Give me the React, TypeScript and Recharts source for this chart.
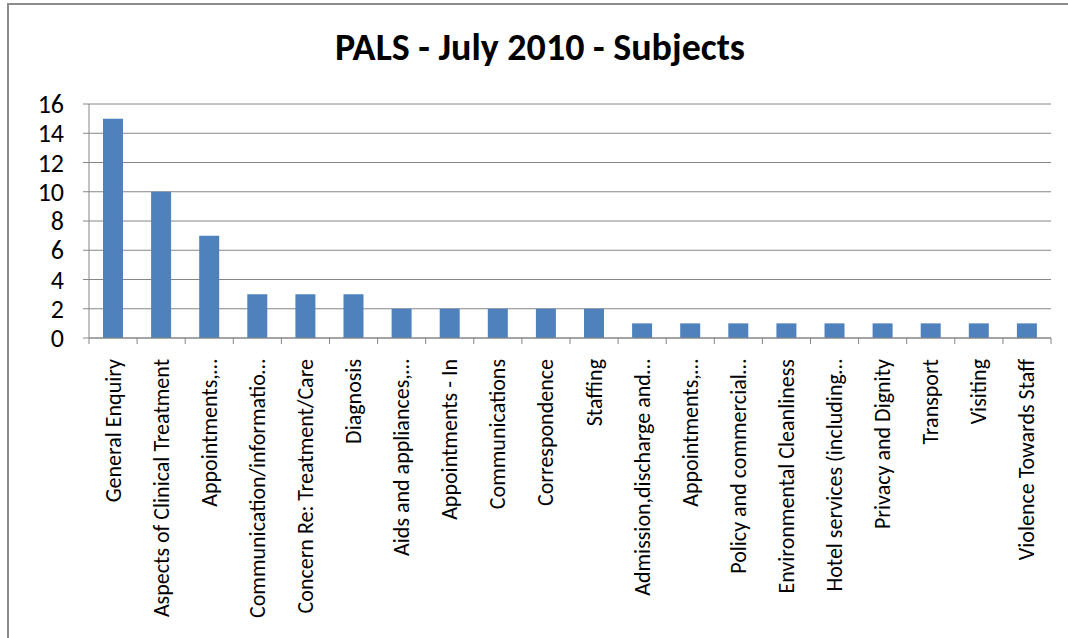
import React from "react";
import { BarChart, Bar, XAxis, YAxis, CartesianGrid } from "recharts";

const categories = [
  "General Enquiry",
  "Aspects of Clinical Treatment",
  "Appointments,…",
  "Communication/informatio…",
  "Concern Re: Treatment/Care",
  "Diagnosis",
  "Aids and appliances,…",
  "Appointments - In",
  "Communications",
  "Correspondence",
  "Staffing",
  "Admission,discharge and…",
  "Appointments,…",
  "Policy and commercial…",
  "Environmental Cleanliness",
  "Hotel services (including…",
  "Privacy and Dignity",
  "Transport",
  "Visiting",
  "Violence Towards Staff",
];
const values = [15, 10, 7, 3, 3, 3, 2, 2, 2, 2, 2, 1, 1, 1, 1, 1, 1, 1, 1, 1];
const yTicks = [0, 2, 4, 6, 8, 10, 12, 14, 16];

const data = categories.map((c, i) => ({ key: i, name: c, value: values[i] }));

const W = 1068;
const H = 638;
const M = { top: 104, right: 17, left: 29, bottom: 10 };
const YW = 60;
const plotLeft = M.left + YW;
const plotW = W - M.right - plotLeft;
const band = plotW / categories.length;
const FONT = "Carlito, Calibri, 'Liberation Sans Narrow', 'Open Sans', sans-serif";

const XTick = (props: any) => {
  const { x, y, payload, index } = props;
  const label = categories[payload.value] ?? "";
  return (
    <g>
      <line x1={x + band / 2} y1={y - 8} x2={x + band / 2} y2={y - 2} stroke="#868686" />
      {index === 0 && (
        <line x1={x - band / 2} y1={y - 8} x2={x - band / 2} y2={y - 2} stroke="#868686" />
      )}
      <text
        x={x}
        y={y + 13}
        transform={`rotate(-90 ${x} ${y + 13})`}
        textAnchor="end"
        dominantBaseline="central"
        fontSize={22}
        fontFamily={FONT}
        fill="#000"
      >
        {label}
      </text>
    </g>
  );
};

export default function App() {
  return (
    <div style={{ position: "absolute", left: 0, top: 0, width: W, height: H, background: "#fff", overflow: "hidden" }}>
      <div
        style={{
          position: "absolute",
          left: 7,
          top: 3,
          width: W,
          height: H,
          border: "2px solid #8c8c8c",
          boxSizing: "border-box",
        }}
      />
      <div
        style={{
          position: "absolute",
          left: 0,
          top: 24,
          width: 1080,
          textAlign: "center",
          fontFamily: FONT,
          fontWeight: "bold",
          fontSize: 38,
          color: "#000",
        }}
      >
        PALS - July 2010 - Subjects
      </div>
      <div style={{ position: "absolute", left: 0, top: 0 }}>
        <BarChart width={W} height={H} data={data} margin={M} barSize={20}>
          <CartesianGrid vertical={false} stroke="#868686" />
          <XAxis
            dataKey="key"
            type="category"
            interval={0}
            height={H - M.top - M.bottom - 234}
            stroke="#868686"
            tickLine={false}
            tick={<XTick />}
          />
          <YAxis
            width={YW}
            domain={[0, 16]}
            ticks={yTicks}
            interval={0}
            stroke="#868686"
            tickSize={6}
            tickMargin={19}
            tick={{ fill: "#000", fontSize: 26, fontFamily: FONT }}
          />
          <Bar dataKey="value" fill="#4F81BD" isAnimationActive={false} />
        </BarChart>
      </div>
    </div>
  );
}
